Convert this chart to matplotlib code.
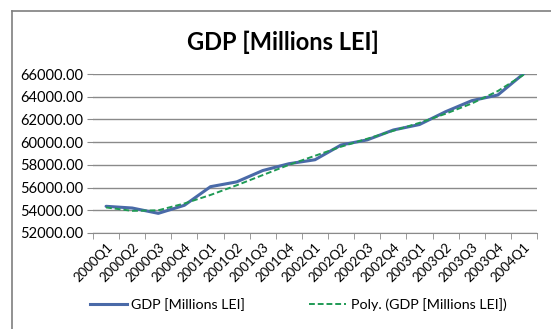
import numpy as np
import matplotlib.pyplot as plt
from matplotlib.lines import Line2D

quarters = ['2000Q1', '2000Q2', '2000Q3', '2000Q4', '2001Q1', '2001Q2', '2001Q3',
            '2001Q4', '2002Q1', '2002Q2', '2002Q3', '2002Q4', '2003Q1', '2003Q2',
            '2003Q3', '2003Q4', '2004Q1']
gdp = [54350, 54200, 53730, 54440, 56080, 56500, 57500, 58100, 58450, 59750,
       60200, 61070, 61550, 62680, 63650, 64150, 66050]
trend = [54250, 53950, 54000, 54600, 55350, 56200, 57100, 58000, 58800, 59600,
         60300, 61000, 61700, 62500, 63400, 64500, 65950]

plt.rcParams['font.family'] = ['Lato', 'DejaVu Sans']

fig = plt.figure(figsize=(5.51, 3.29), dpi=100)
ax = fig.add_axes([93/551, 1 - 233/329, (537 - 93)/551, 159/329])

x = np.arange(len(quarters))
ax.plot(x, gdp, color='#4a6aa8', lw=2.2, solid_capstyle='round', zorder=3)
ax.plot(x, trend, color='#1f9a55', lw=1.4, ls=(0, (3, 1.5)), zorder=4)

ax.set_xlim(-0.5, len(quarters) - 0.5)
ax.set_ylim(52000, 66000)
ax.set_yticks(np.arange(52000, 66001, 2000))
ax.set_yticklabels([f'{v:.2f}' for v in np.arange(52000, 66001, 2000)], fontsize=10.5)
ax.yaxis.grid(True, color='#8a8a8a', lw=1)
ax.set_axisbelow(True)
ax.tick_params(axis='y', length=4, color='#8a8a8a', pad=3)

ax.set_xticks(x)
ax.set_xticklabels(quarters, rotation=45, ha='right', rotation_mode='anchor', fontsize=9.5)
ax.set_xticks(np.arange(-0.5, len(quarters)), minor=True)
ax.tick_params(axis='x', which='major', length=0, pad=6)
ax.tick_params(axis='x', which='minor', length=4, color='#8a8a8a')

for s in ['top', 'right', 'left']:
    ax.spines[s].set_visible(False)
ax.spines['bottom'].set_color('#8a8a8a')

fig.text(283/551, 1 - 42/329, 'GDP [Millions LEI]', ha='center', va='center',
         fontsize=17, fontweight='bold')

handles = [Line2D([], [], color='#4a6aa8', lw=2.2),
           Line2D([], [], color='#1f9a55', lw=1.4, ls=(0, (3, 1.5)))]
fig.legend(handles, ['GDP [Millions LEI]', 'Poly. (GDP [Millions LEI])'],
           loc='center', bbox_to_anchor=(298/551, 1 - 305/329), ncol=2,
           frameon=False, fontsize=10.3, handlelength=2.6, columnspacing=4.5,
           handletextpad=0.3)

# chart border (left and top only visible)
fig.add_artist(Line2D([12/551, 12/551], [0, 1 - 11/329], color='#7f7f7f', lw=1.2))
fig.add_artist(Line2D([12/551, 1], [1 - 11/329, 1 - 11/329], color='#7f7f7f', lw=1.2))

fig.savefig('out.png', dpi=100)
